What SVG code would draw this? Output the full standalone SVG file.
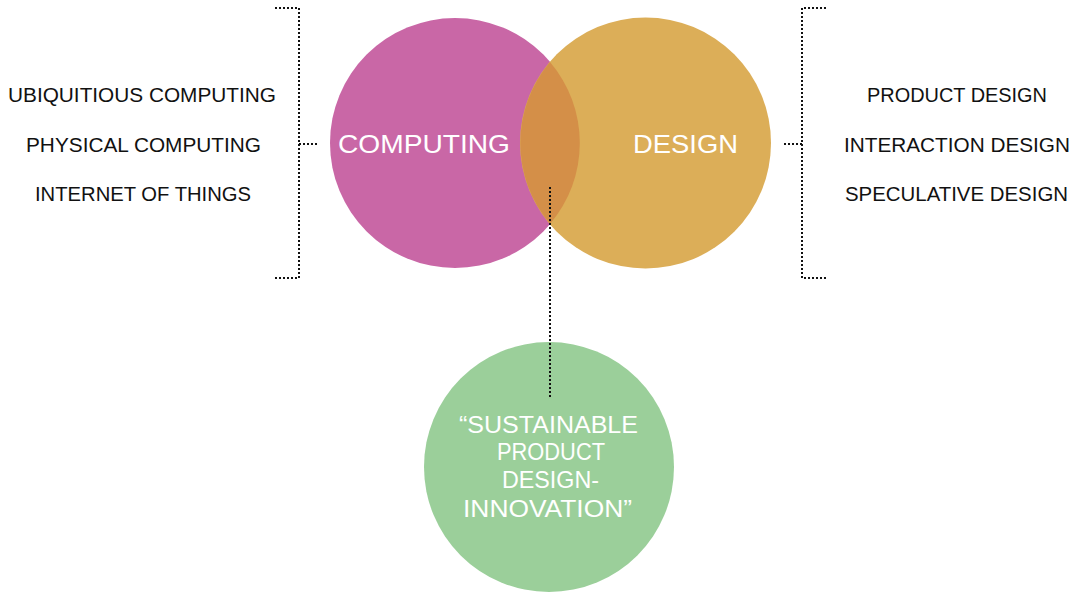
<svg xmlns="http://www.w3.org/2000/svg" width="1080" height="592" viewBox="0 0 1080 592">
<style>
.dot{fill:none;stroke:#111;stroke-width:2;stroke-dasharray:2 2}
.lbl{font-family:"Liberation Sans","DejaVu Sans",sans-serif;font-size:19.5px;fill:#111}
.big{font-family:"Liberation Sans","DejaVu Sans",sans-serif;font-size:26.5px;fill:#fff}
.mid{font-family:"Liberation Sans","DejaVu Sans",sans-serif;font-size:24px;fill:#fff}
</style>
<rect width="1080" height="592" fill="#fff"/>
<g id="computing">
<circle cx="455" cy="143" r="125" fill="#C967A6"/>
</g>
<g id="design">
<circle cx="645.5" cy="143" r="125.5" fill="#DCAE58"/>
</g>
<g id="overlap">
<path d="M550,62 A125,125 0 0 1 550,224 A125.5,125.5 0 0 1 550,62 Z" fill="#D48F48"/>
</g>
<g id="computing-label">
<text class="big" x="338" y="153" textLength="172" lengthAdjust="spacingAndGlyphs">COMPUTING</text>
</g>
<g id="design-label">
<text class="big" x="633" y="153" textLength="105" lengthAdjust="spacingAndGlyphs">DESIGN</text>
</g>
<g id="sustainable">
<circle cx="549" cy="467" r="125" fill="#9BCF9A"/>
<text class="mid" x="459" y="433" textLength="179" lengthAdjust="spacingAndGlyphs">“SUSTAINABLE</text>
<text class="mid" x="497" y="460" textLength="108" lengthAdjust="spacingAndGlyphs">PRODUCT</text>
<text class="mid" x="502" y="488" textLength="97" lengthAdjust="spacingAndGlyphs">DESIGN-</text>
<text class="mid" x="463" y="517" textLength="169" lengthAdjust="spacingAndGlyphs">INNOVATION”</text>
</g>
<g id="computing-list">
<text class="lbl" x="8" y="102" textLength="268" lengthAdjust="spacingAndGlyphs">UBIQUITIOUS COMPUTING</text>
<text class="lbl" x="26" y="152" textLength="235" lengthAdjust="spacingAndGlyphs">PHYSICAL COMPUTING</text>
<text class="lbl" x="35" y="201" textLength="216" lengthAdjust="spacingAndGlyphs">INTERNET OF THINGS</text>
</g>
<g id="design-list">
<text class="lbl" x="867" y="102" textLength="180" lengthAdjust="spacingAndGlyphs">PRODUCT DESIGN</text>
<text class="lbl" x="844" y="152" textLength="226" lengthAdjust="spacingAndGlyphs">INTERACTION DESIGN</text>
<text class="lbl" x="845" y="201" textLength="223" lengthAdjust="spacingAndGlyphs">SPECULATIVE DESIGN</text>
</g>
<g id="connectors">
<path class="dot" d="M275,8 H299 V278 H275"/>
<path class="dot" d="M299,144 H317"/>
<path class="dot" d="M826,8 H802 V278 H826"/>
<path class="dot" d="M802,144 H784"/>
<path class="dot" d="M550,187 V398"/>
</g>
</svg>
